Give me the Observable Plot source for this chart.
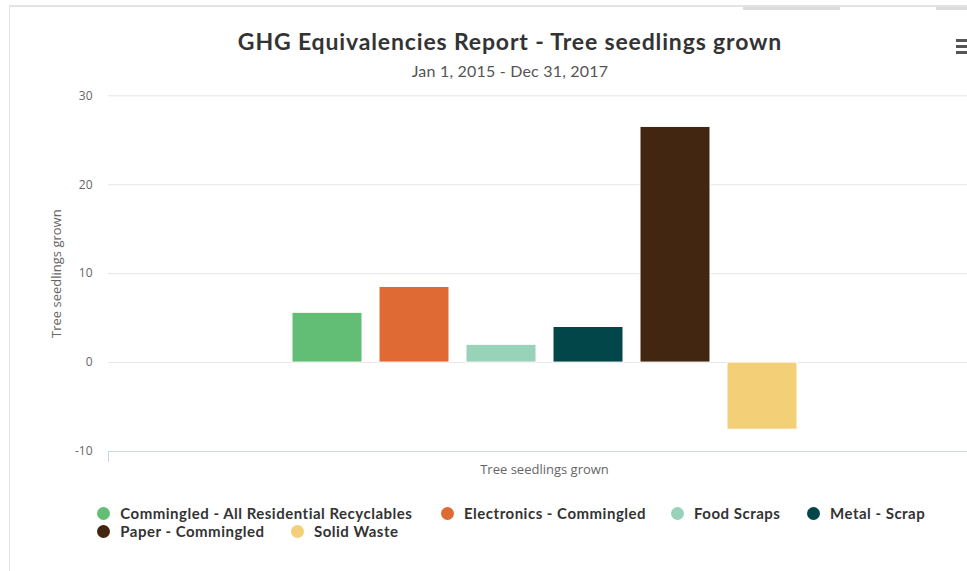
<!DOCTYPE html>
<html>
<head>
<meta charset="utf-8">
<script src="https://cdn.jsdelivr.net/npm/d3@7"></script>
<script src="https://cdn.jsdelivr.net/npm/@observablehq/plot@0.6"></script>
<style>
  html, body { margin: 0; padding: 0; background: #fff; overflow: hidden; }
  #wrap { position: relative; width: 967px; height: 571px; overflow: hidden; font-family: Lato, "Open Sans", sans-serif; }
  .frame { position: absolute; left: 9px; top: 5px; width: 1200px; height: 700px; border-left: 1px solid #e0e0e0; border-top: 2px solid #e3e3e3; }
  .tab { position: absolute; top: 7px; height: 3px; background: #dcdcdc; }
  #title { position: absolute; left: 0; top: 27px; width: 1020px; text-align: center; font-size: 23px; letter-spacing: 0.85px; font-weight: 700; color: #333; }
  #subtitle { position: absolute; left: 0; top: 61px; width: 1020px; text-align: center; font-size: 16px; letter-spacing: 0.2px; color: #555; }
  .burger { position: absolute; left: 956px; width: 14px; height: 2.5px; background: #555; }
  #chart { position: absolute; left: 0; top: 0; }
  .leg { position: absolute; font-size: 15px; letter-spacing: 0.5px; font-weight: 700; color: #333; white-space: nowrap; line-height: 18px; }
  .leg .dot { position: absolute; left: -6.5px; top: 2.5px; width: 13px; height: 13px; border-radius: 50%; }
  .leg .txt { position: absolute; left: 17px; top: 0; }
</style>
</head>
<body>
<div id="wrap">
  <div class="frame"></div>
  <div class="tab" style="left:743px;width:97px"></div>
  <div class="tab" style="left:936px;width:40px"></div>
  <div id="title"></div>
  <div id="subtitle"></div>
  <div class="burger" style="top:39px"></div>
  <div class="burger" style="top:45px"></div>
  <div class="burger" style="top:51px"></div>
  <div id="chart"></div>
  <div id="legend"></div>
</div>
<script>
const titleText = "GHG Equivalencies Report - Tree seedlings grown";
const subtitleText = "Jan 1, 2015 - Dec 31, 2017";
const categories = [
  "Commingled - All Residential Recyclables",
  "Electronics - Commingled",
  "Food Scraps",
  "Metal - Scrap",
  "Paper - Commingled",
  "Solid Waste"
];
const values = [5.6, 8.5, 2.0, 4.0, 26.5, -7.55];
const colors = ["#62be74", "#e06a34", "#98d2b8", "#02464a", "#422612", "#f3cf78"];
const yTicks = [-10, 0, 10, 20, 30];
const axisTitle = "Tree seedlings grown";

document.getElementById("title").textContent = titleText;
document.getElementById("subtitle").textContent = subtitleText;

const data = categories.map((c, i) => ({category: c, value: values[i]}));

const chart = Plot.plot({
  width: 967,
  height: 485,
  marginLeft: 108,
  marginRight: 0,
  marginTop: 95.3,
  marginBottom: 34,
  style: {fontFamily: "'Open Sans', sans-serif", fontSize: "12px", color: "#666", background: "transparent"},
  x: {domain: categories, range: [274.9, 814.3], padding: 0.2, axis: null},
  y: {domain: [-10, 30], ticks: yTicks, axis: null},
  color: {domain: categories, range: colors},
  marks: [
    Plot.ruleY(yTicks.filter(t => t > -10), {stroke: "#e6e6e6", strokeWidth: 1}),
    Plot.barY(data, {x: "category", y: "value", fill: "category", stroke: "#fff", strokeWidth: 1}),
    Plot.ruleY([-10], {stroke: "#ccd6eb", strokeWidth: 1}),
    (index, scales, values, dim) => {
      const line = document.createElementNS("http://www.w3.org/2000/svg", "line");
      const x = dim.marginLeft + 0.5;
      const y = dim.height - dim.marginBottom;
      line.setAttribute("x1", x); line.setAttribute("x2", x);
      line.setAttribute("y1", y); line.setAttribute("y2", y + 11);
      line.setAttribute("stroke", "#ccd6eb");
      return line;
    },
    Plot.axisY({ticks: yTicks, tickSize: 0, tickPadding: 16, label: null, tickFormat: d => String(d), fill: "#666", fontSize: 12}),
    Plot.text([axisTitle], {frameAnchor: "left", textAnchor: "middle", dx: -52, rotate: -90, fill: "#666", fontSize: 13}),
    Plot.text([axisTitle], {frameAnchor: "bottom", dx: 6.5, dy: 22, fill: "#666", fontSize: 13})
  ]
});
document.getElementById("chart").appendChild(chart);

// legend
const legendPos = [[103.3, 504.3], [447, 504.3], [677, 504.3], [813, 504.3], [103.3, 522], [297, 522]];
const legend = document.getElementById("legend");
categories.forEach((c, i) => {
  const item = document.createElement("div");
  item.className = "leg";
  item.style.left = legendPos[i][0] + "px";
  item.style.top = legendPos[i][1] + "px";
  const dot = document.createElement("span");
  dot.className = "dot";
  dot.style.background = colors[i];
  const txt = document.createElement("span");
  txt.className = "txt";
  txt.textContent = c;
  item.appendChild(dot);
  item.appendChild(txt);
  legend.appendChild(item);
});
</script>
</body>
</html>
